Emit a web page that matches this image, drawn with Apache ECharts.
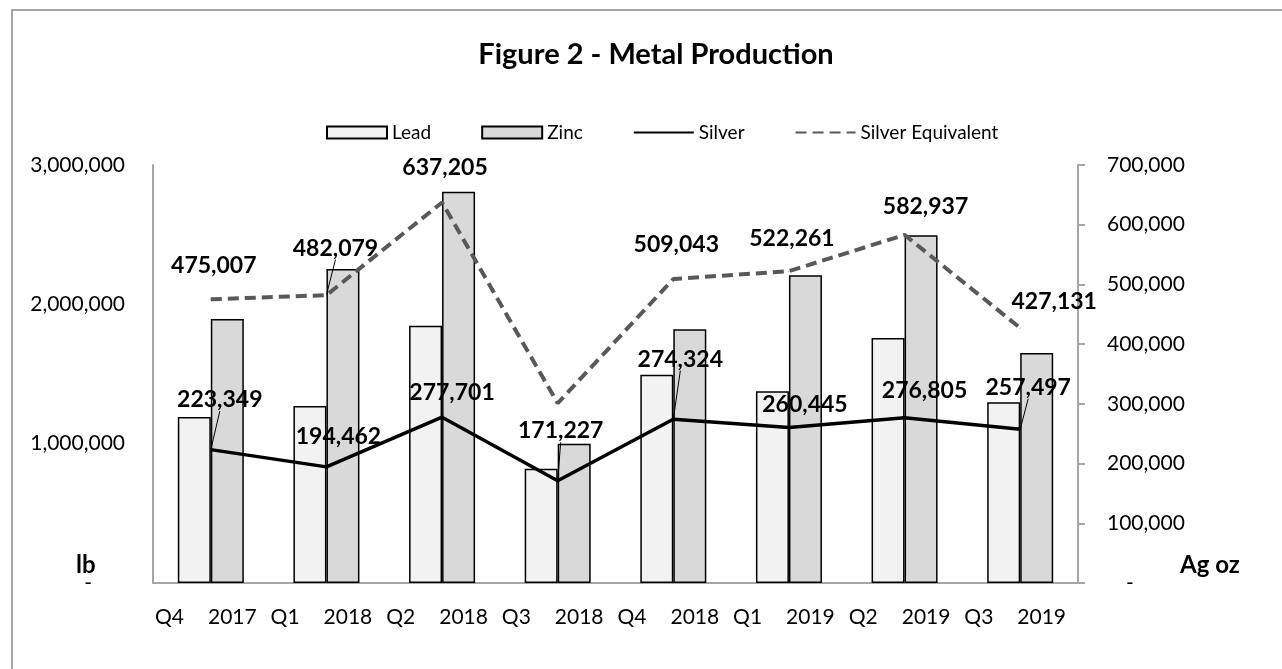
<!DOCTYPE html>
<html>
<head>
<meta charset="utf-8">
<title>Figure 2 - Metal Production</title>
<script src="https://cdn.jsdelivr.net/npm/echarts@6/dist/echarts.min.js"></script>
<style>
  html, body { margin: 0; padding: 0; background: #fff; }
  #chart { width: 1282px; height: 669px; }
</style>
</head>
<body>
<div id="chart"></div>
<script>
// quarters
const categories = ["Q4 2017", "Q1 2018", "Q2 2018", "Q3 2018", "Q4 2018", "Q1 2019", "Q2 2019", "Q3 2019"];
// lb (left axis)
const lead = [1191000, 1270000, 1847000, 820000, 1495000, 1376000, 1758000, 1297000];
const zinc = [1895000, 2254000, 2808000, 1000000, 1821000, 2208000, 2495000, 1651000];
// Ag oz (right axis)
const silver = [223349, 194462, 277701, 171227, 274324, 260445, 276805, 257497];
const silverEq = [475007, 482079, 637205, 301000, 509043, 522261, 582937, 427131];
const leftTicks = [0, 1000000, 2000000, 3000000];
const rightTicks = [0, 100000, 200000, 300000, 400000, 500000, 600000, 700000];

// label placement (excel moved them by hand)
const silverLabelShift = [[9, -38], [12, -18], [10, -13], [3, -38], [7, -48], [16, -11], [20, -15], [8, -30]];
const silverLabelLine = [true, false, false, true, true, false, false, true];
const eqLabelShift = [[3, -22], [9, -35], [3, -23], [0, 0], [3, -22], [3, -21], [21, -16], [34, -14]];
const eqLabelLine = [false, true, false, false, false, false, false, false];
const eqLabelShow = [true, true, true, false, true, true, true, true];

const FONT = "Lato";
const fmt = (v) => v.toLocaleString("en-US");

const chart = echarts.init(document.getElementById("chart"));

const labelStyle = {
  show: true,
  position: "top",
  distance: 0,
  fontFamily: FONT,
  fontWeight: "bold",
  fontSize: 23,
  color: "#000",
  formatter: (p) => fmt(p.value),
};

chart.setOption({
  animation: false,
  backgroundColor: "#fff",
  title: {
    text: "Figure 2 - Metal Production",
    left: 651,
    top: 35,
    textAlign: "center",
    textStyle: { fontFamily: FONT, fontWeight: "bold", fontSize: 29, color: "#000" },
  },
  legend: {
    left: 321,
    top: 118,
    itemWidth: 60,
    itemHeight: 12,
    itemGap: 50,
    textStyle: { fontFamily: FONT, fontSize: 19, color: "#000" },
    data: [
      { name: "Lead", icon: "rect" },
      { name: "Zinc", icon: "rect" },
      { name: "Silver", itemStyle: { opacity: 0 } },
      { name: "Silver Equivalent", itemStyle: { opacity: 0 } },
    ],
  },
  grid: { left: 153, right: 204, top: 165, bottom: 86 },
  xAxis: {
    type: "category",
    data: categories,
    axisLine: { lineStyle: { color: "#a6a6a6", width: 2 } },
    axisTick: { show: false },
    axisLabel: {
      interval: 0,
      margin: 24,
      padding: [0, 10, 0, 0],
      fontFamily: FONT,
      fontSize: 21,
      color: "#000",
      formatter: (v) => {
        const parts = v.split(" ");
        return "{a|" + parts[0] + "}{b|" + parts[1] + "}";
      },
      rich: {
        a: { fontFamily: FONT, fontSize: 21, color: "#000" },
        b: { fontFamily: FONT, fontSize: 21, color: "#000", padding: [0, 0, 0, 24] },
      },
    },
  },
  yAxis: [
    {
      type: "value",
      min: leftTicks[0],
      max: leftTicks[leftTicks.length - 1],
      interval: leftTicks[1] - leftTicks[0],
      splitLine: { show: false },
      axisLine: { show: true, lineStyle: { color: "#a6a6a6", width: 2 } },
      axisTick: { show: false },
      axisLabel: {
        margin: 28,
        fontFamily: FONT,
        fontSize: 21,
        color: "#000",
        formatter: (v) => (v === 0 ? "{d|-}" : fmt(v)),
        rich: { d: { fontFamily: FONT, fontSize: 21, color: "#000", padding: [0, 33, 0, 0] } },
      },
    },
    {
      type: "value",
      min: rightTicks[0],
      max: rightTicks[rightTicks.length - 1],
      interval: rightTicks[1] - rightTicks[0],
      splitLine: { show: false },
      axisLine: { show: true, lineStyle: { color: "#a6a6a6", width: 2 } },
      axisTick: { show: true, length: 7, lineStyle: { color: "#a6a6a6", width: 2 } },
      axisLabel: {
        margin: 29,
        fontFamily: FONT,
        fontSize: 21,
        color: "#000",
        formatter: (v) => (v === 0 ? "{d|-}" : fmt(v)),
        rich: { d: { fontFamily: FONT, fontSize: 21, color: "#000", padding: [0, 0, 0, 19] } },
      },
    },
  ],
  series: [
    {
      name: "Lead",
      type: "bar",
      barWidth: 33,
      barGap: "0%",
      data: lead,
      itemStyle: { color: "#f2f2f2", borderColor: "#000", borderWidth: 1.5 },
    },
    {
      name: "Zinc",
      type: "bar",
      barWidth: 33,
      barGap: "0%",
      data: zinc,
      itemStyle: { color: "#d9d9d9", borderColor: "#000", borderWidth: 1.5 },
    },
    {
      name: "Silver",
      type: "line",
      yAxisIndex: 1,
      data: silver.map((v, i) => ({ value: v, labelLine: { show: silverLabelLine[i] } })),
      symbol: "circle",
      symbolSize: 1,
      showSymbol: true,
      itemStyle: { color: "#000" },
      lineStyle: { color: "#000", width: 3.5 },
      label: labelStyle,
      labelLine: { lineStyle: { color: "#000", width: 1 } },
      labelLayout: (p) => ({ dx: silverLabelShift[p.dataIndex][0], dy: silverLabelShift[p.dataIndex][1] }),
      z: 3,
    },
    {
      name: "Silver Equivalent",
      type: "line",
      yAxisIndex: 1,
      data: silverEq.map((v, i) => ({
        value: v,
        label: { show: eqLabelShow[i] },
        labelLine: { show: eqLabelLine[i] },
      })),
      symbol: "circle",
      symbolSize: 1,
      showSymbol: true,
      itemStyle: { color: "#595959" },
      lineStyle: { color: "#595959", width: 4, type: [11, 6] },
      label: labelStyle,
      labelLine: { lineStyle: { color: "#000", width: 1 } },
      labelLayout: (p) => ({ dx: eqLabelShift[p.dataIndex][0], dy: eqLabelShift[p.dataIndex][1] }),
      z: 3,
    },
  ],
  graphic: [
    {
      type: "rect",
      shape: { x: 12, y: 10, width: 1400, height: 800 },
      style: { fill: null, stroke: "#a6a6a6", lineWidth: 2 },
      silent: true,
    },
    {
      type: "text",
      left: 76,
      top: 553,
      style: { text: "lb", font: "bold 24px " + FONT, fill: "#000" },
    },
    {
      type: "text",
      left: 1180,
      top: 553,
      style: { text: "Ag oz", font: "bold 24px " + FONT, fill: "#000" },
    },
  ],
});
</script>
</body>
</html>
